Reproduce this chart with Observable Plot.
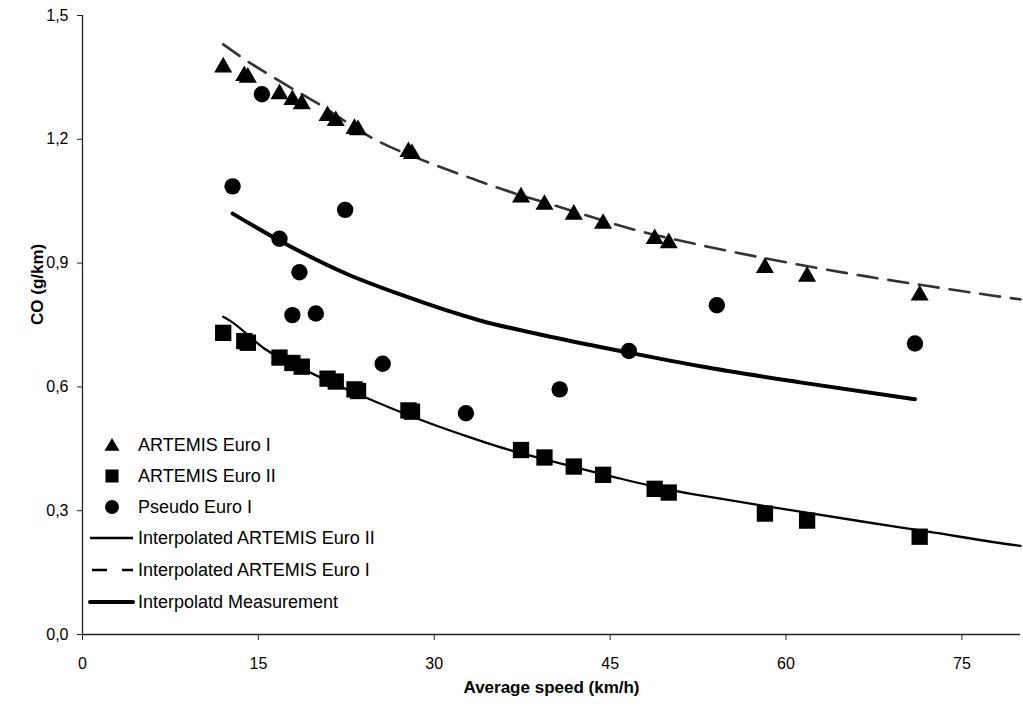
<!DOCTYPE html>
<html>
<head>
<meta charset="utf-8">
<script src="https://cdn.jsdelivr.net/npm/d3@7"></script>
<script src="https://cdn.jsdelivr.net/npm/@observablehq/plot@0.6"></script>
<style>
  html, body { margin: 0; padding: 0; background: #fff; }
  #chart { width: 1023px; height: 710px; }
  svg { font-family: "Liberation Sans", Arial, sans-serif; }
</style>
</head>
<body>
<div id="chart"></div>
<script>
// ---- Data ----
const cycleSpeed = [12.0, 13.8, 14.1, 16.8, 17.9, 18.7, 20.9, 21.6, 23.2, 23.5, 27.8, 28.1, 37.4, 39.4, 41.9, 44.4, 48.8, 50.0, 58.2, 61.8, 71.4];
const artemisEuro1 = [1.381, 1.360, 1.356, 1.316, 1.302, 1.292, 1.263, 1.251, 1.232, 1.229, 1.176, 1.171, 1.066, 1.048, 1.024, 1.002, 0.965, 0.955, 0.895, 0.874, 0.828];
const artemisEuro2 = [0.731, 0.711, 0.707, 0.671, 0.658, 0.649, 0.620, 0.613, 0.594, 0.590, 0.543, 0.540, 0.447, 0.429, 0.407, 0.387, 0.353, 0.344, 0.293, 0.276, 0.237];

const pseudoSpeed = [12.8, 15.3, 16.8, 17.9, 18.5, 19.9, 22.4, 25.6, 32.7, 40.7, 46.6, 54.1, 71.0];
const pseudoEuro1 = [1.086, 1.309, 0.959, 0.774, 0.878, 0.778, 1.029, 0.656, 0.536, 0.594, 0.687, 0.798, 0.705];

const fitEuro1Speed = [12.0, 13.5, 17.0, 20.0, 25.1, 29.4, 33.4, 36.0, 40.0, 47.6, 52.8, 55.5, 60.0, 66.6, 72.0, 77.7, 80.0];
const fitEuro1CO    = [1.430, 1.400, 1.338, 1.288, 1.197, 1.145, 1.103, 1.077, 1.042, 0.977, 0.943, 0.927, 0.902, 0.869, 0.845, 0.821, 0.812];

const fitEuro2Speed = [12.0, 12.6, 15.5, 19.7, 24.0, 28.2, 32.8, 35.6, 40.0, 45.0, 50.0, 52.7, 54.4, 60.0, 66.9, 72.0, 79.7, 80.0];
const fitEuro2CO    = [0.770, 0.760, 0.693, 0.631, 0.576, 0.527, 0.480, 0.454, 0.420, 0.384, 0.351, 0.337, 0.329, 0.303, 0.272, 0.250, 0.216, 0.215];

const fitMeasSpeed = [12.8, 16.9, 22.6, 27.1, 33.9, 40.0, 46.6, 52.7, 61.2, 71.0];
const fitMeasCO    = [1.020, 0.953, 0.873, 0.824, 0.761, 0.721, 0.683, 0.650, 0.611, 0.570];

const xTicks = [0, 15, 30, 45, 60, 75];
const yTicks = [0, 0.3, 0.6, 0.9, 1.2, 1.5];

const legendLabels = [
  "ARTEMIS Euro I",
  "ARTEMIS Euro II",
  "Pseudo Euro I",
  "Interpolated ARTEMIS Euro II",
  "Interpolated ARTEMIS Euro I",
  "Interpolatd Measurement"
];

// ---- Build tables ----
const zip = (xs, ys) => xs.map((x, i) => ({x, y: ys[i]}));
const e1 = zip(cycleSpeed, artemisEuro1);
const e2 = zip(cycleSpeed, artemisEuro2);
const ps = zip(pseudoSpeed, pseudoEuro1);
const f1 = zip(fitEuro1Speed, fitEuro1CO);
const f2 = zip(fitEuro2Speed, fitEuro2CO);
const fm = zip(fitMeasSpeed, fitMeasCO);

const fmt = d => d.toFixed(1).replace(".", ",");
const axisColor = "#222";

const plot = Plot.plot({
  width: 1023,
  height: 710,
  marginLeft: 82,
  marginRight: 3,
  marginTop: 15,
  marginBottom: 76,
  style: {fontFamily: '"Liberation Sans", Arial, sans-serif', background: "#fff", color: "#000"},
  x: {domain: [0, 80]},
  y: {domain: [0, 1.5]},
  marks: [
    Plot.axisY({ticks: yTicks, tickFormat: fmt, tickSize: 5, tickPadding: 9, fontSize: 16, label: null, stroke: axisColor}),
    Plot.axisX({ticks: xTicks, tickSize: 6, tickPadding: 17, fontSize: 16, label: null, stroke: axisColor}),
    Plot.ruleX([0], {stroke: axisColor, strokeWidth: 1.3}),
    Plot.ruleY([0], {stroke: axisColor, strokeWidth: 1.3}),
    Plot.line(f2, {x: "x", y: "y", stroke: "#000", strokeWidth: 2.3, curve: "monotone-x"}),
    Plot.line(f1, {x: "x", y: "y", stroke: "#333", strokeWidth: 2.6, strokeDasharray: "20,11", curve: "monotone-x"}),
    Plot.line(fm, {x: "x", y: "y", stroke: "#000", strokeWidth: 4, curve: "monotone-x", strokeLinecap: "round"}),
    Plot.dot(e1, {x: "x", y: "y", symbol: "triangle", r: 6.7, fill: "#000", stroke: "none", dy: 2.6}),
    Plot.dot(e2, {x: "x", y: "y", symbol: "square", r: 9.2, fill: "#000", stroke: "none"}),
    Plot.dot(ps, {x: "x", y: "y", symbol: "circle", r: 8.2, fill: "#000", stroke: "none"}),
    Plot.text(["Average speed (km/h)"], {text: d => d, frameAnchor: "bottom", dy: 58, fontSize: 17, fontWeight: "bold", fill: "#000"}),
    Plot.text(["CO (g/km)"], {text: d => d, frameAnchor: "left", dx: -45, rotate: -90, fontSize: 17, fontWeight: "bold", fill: "#000"})
  ]
});

document.getElementById("chart").appendChild(plot);

// ---- Legend inside the plot area ----
const svg = d3.select(plot);
const lg = svg.append("g")
  .attr("font-family", '"Liberation Sans", Arial, sans-serif')
  .attr("font-size", 18)
  .attr("text-anchor", "start");
const rowY = [445, 476, 507, 538, 570, 602];
const symX = 112, textX = 138;
legendLabels.forEach((label, i) => {
  const y = rowY[i];
  if (i === 0) lg.append("path").attr("d", d3.symbol(d3.symbolTriangle, 95)()).attr("transform", `translate(${symX},${y + 1.5})`).attr("fill", "#000");
  if (i === 1) lg.append("rect").attr("x", symX - 6.5).attr("y", y - 6.5).attr("width", 13).attr("height", 13).attr("fill", "#000");
  if (i === 2) lg.append("circle").attr("cx", symX).attr("cy", y).attr("r", 7).attr("fill", "#000");
  if (i === 3) lg.append("line").attr("x1", 90).attr("x2", 133).attr("y1", y).attr("y2", y).attr("stroke", "#000").attr("stroke-width", 2.3);
  if (i === 4) lg.append("line").attr("x1", 92).attr("x2", 133).attr("y1", y).attr("y2", y).attr("stroke", "#000").attr("stroke-width", 2.6).attr("stroke-dasharray", "15,15");
  if (i === 5) lg.append("line").attr("x1", 90).attr("x2", 133).attr("y1", y).attr("y2", y).attr("stroke", "#000").attr("stroke-width", 4).attr("stroke-linecap", "round");
  lg.append("text").attr("x", textX).attr("y", y).attr("dy", "0.35em").attr("text-anchor", "start").attr("fill", "#000").text(label);
});
</script>
</body>
</html>
